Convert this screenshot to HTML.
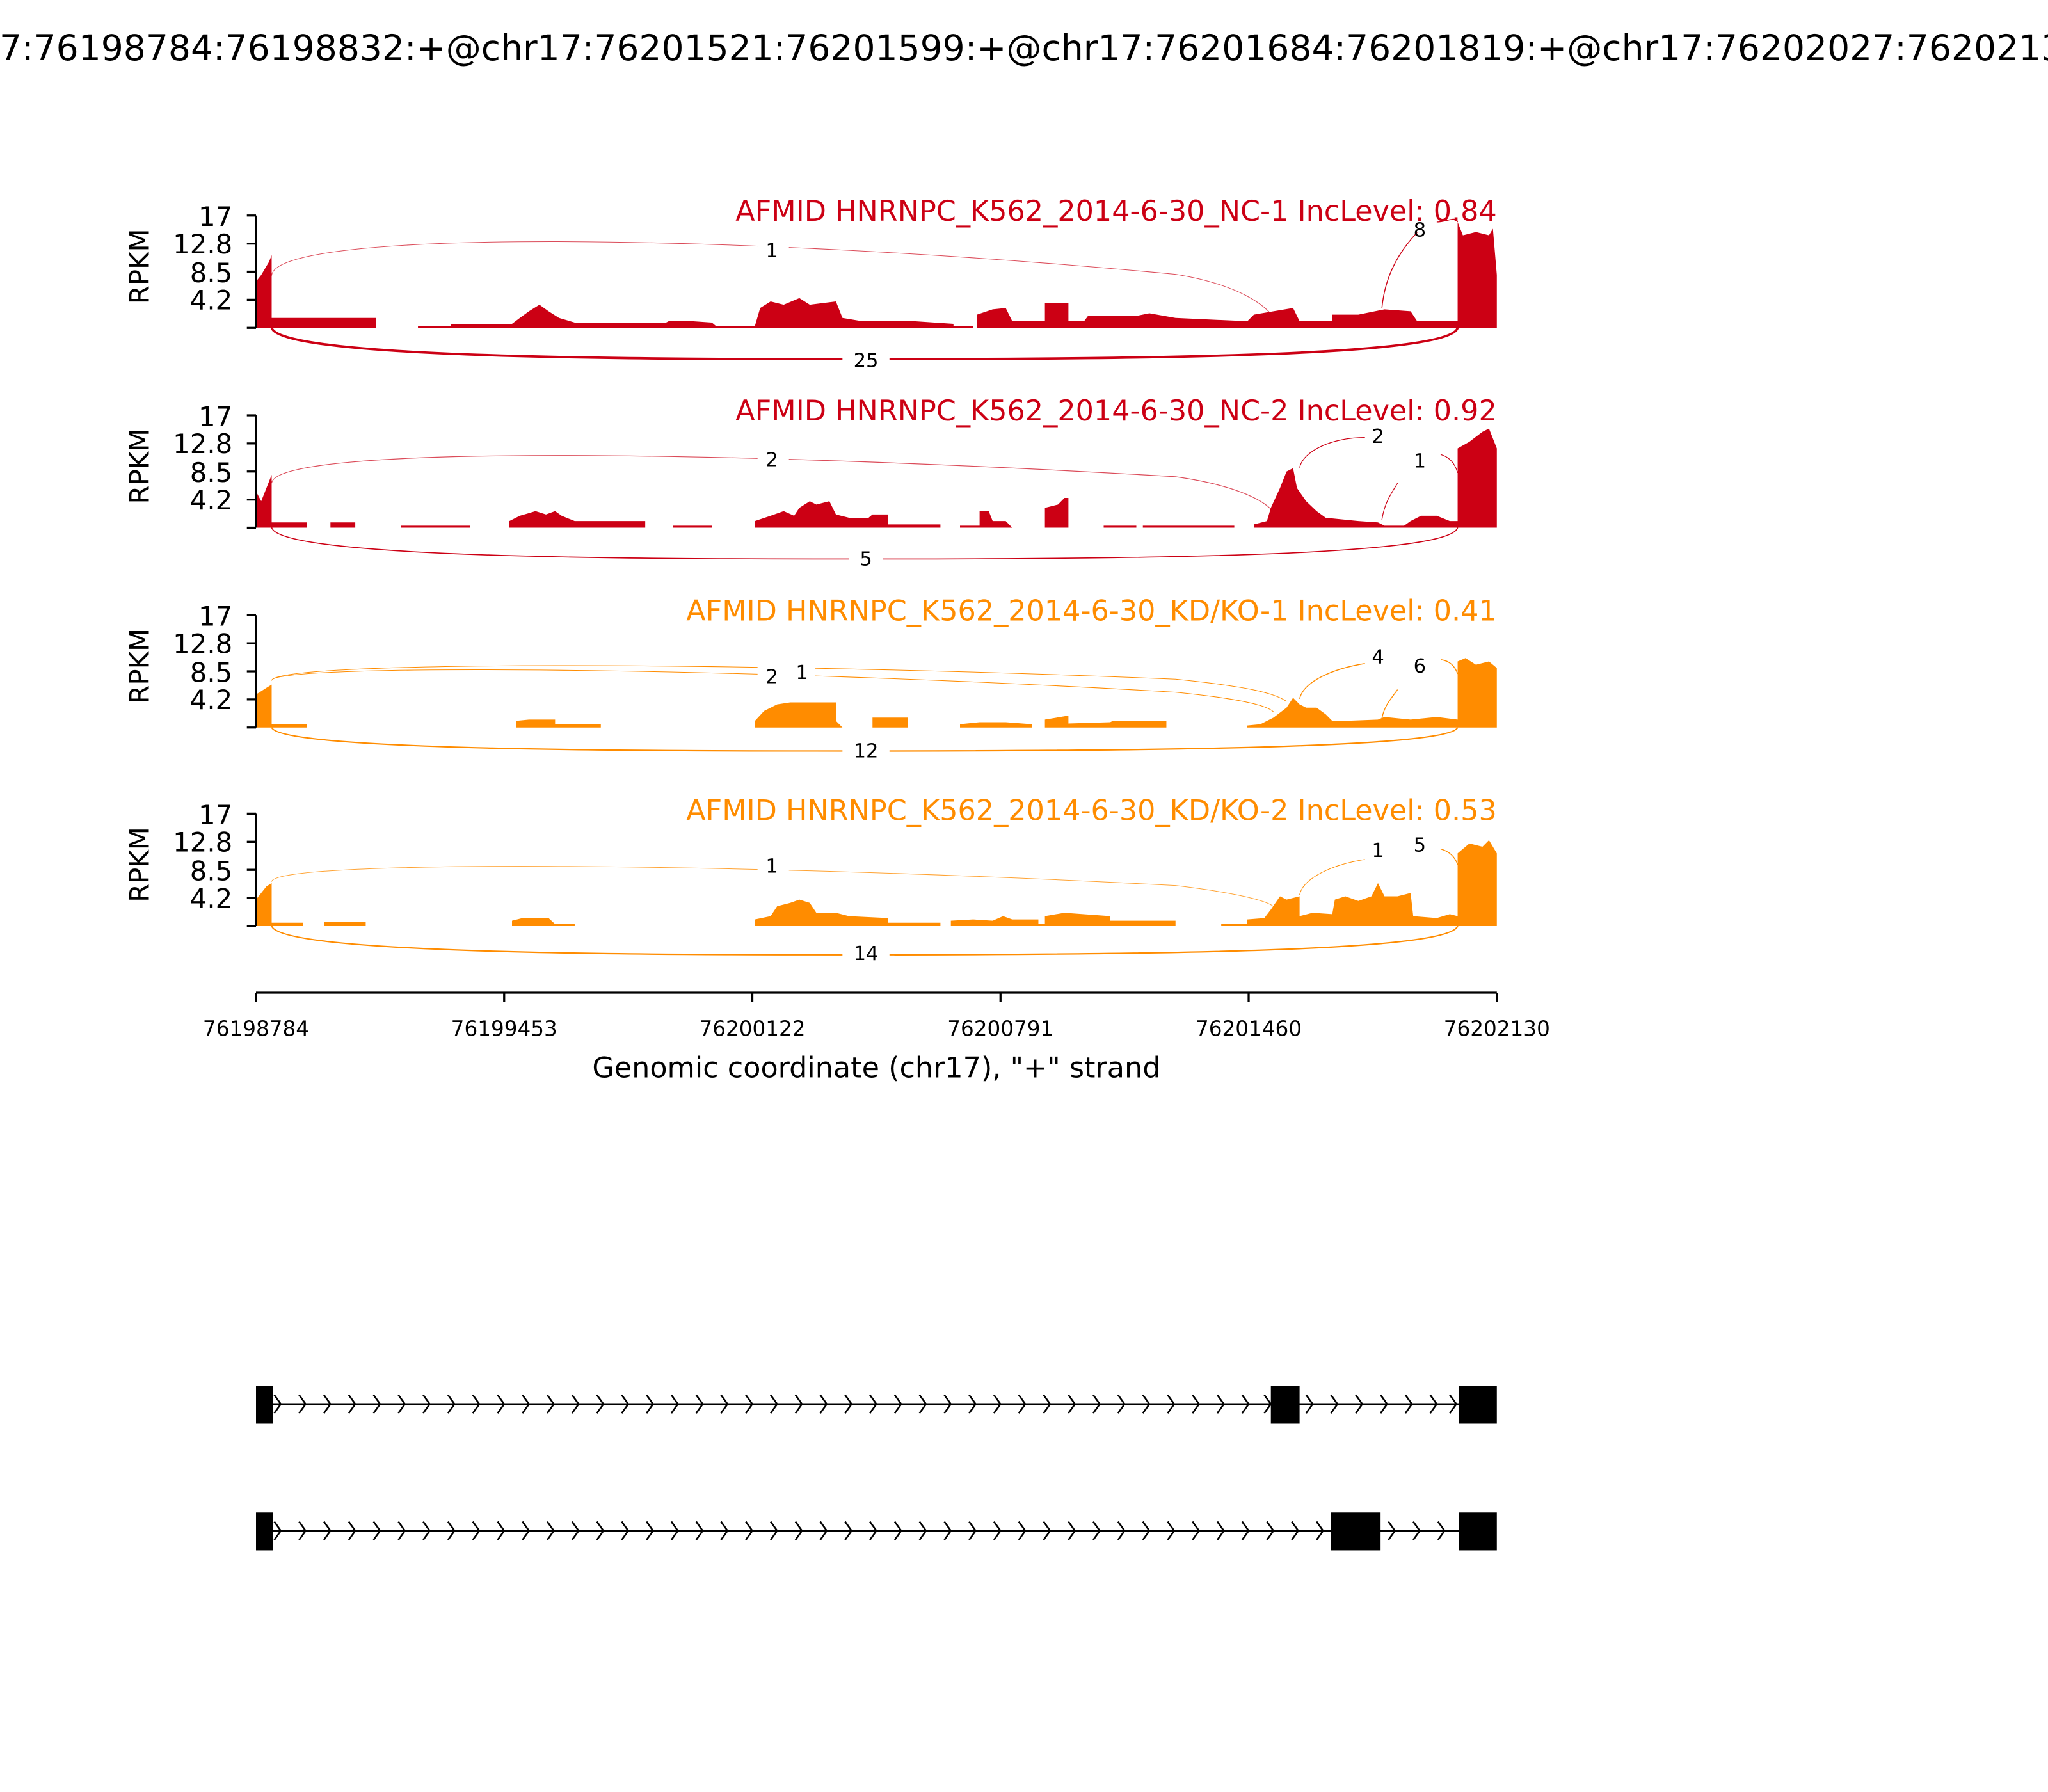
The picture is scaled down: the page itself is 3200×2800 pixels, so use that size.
<!DOCTYPE html>
<html><head><style>
html,body{margin:0;padding:0;background:#fff;}
svg{display:block;}
text{font-family:"DejaVu Sans","Liberation Sans",sans-serif;}
</style></head><body>
<svg width="3200" height="2800" viewBox="0 0 1568 1372" xmlns="http://www.w3.org/2000/svg">
<rect width="1568" height="1372" fill="#fff"/>
<text x="784" y="46" font-size="27" text-anchor="middle">chr17:76198784:76198832:+@chr17:76201521:76201599:+@chr17:76201684:76201819:+@chr17:76202027:76202130:+</text>

<!-- Panel 1 -->
<g>
<text x="1146" y="169" font-size="21.8" text-anchor="end" fill="#cc0014">AFMID HNRNPC_K562_2014-6-30_NC-1 IncLevel: 0.84</text>
<g transform="translate(0,251) scale(1,-5.06)" fill="#cc0014">
<path d="M196,0 L196,7 200,8 203,9 206,10 208,11 208,1.5 288,1.5 288,0 320,0 320,0.3 345,0.3 345,0.6 392,0.6 398,1.5 405,2.5 413,3.5 420,2.5 428,1.5 440,0.8 510,0.8 512,1 530,1 545,0.8 548,0.3 578,0.3 582,3 590,4 600,3.5 612,4.5 620,3.5 640,4 645,1.5 660,1 700,1 730,0.6 730,0.3 745,0.3 745,0 748,0 748,2 760,2.8 770,3 775,1 800,1 800,3.8 818,3.8 818,1 830,1 833,1.8 870,1.8 880,2.2 900,1.5 955,1 960,2 975,2.5 990,3 995,1 1020,1 1020,2 1040,2 1060,2.8 1080,2.5 1085,1 1116,1 1116,16 1120,14 1130,14.5 1140,14 1143,15 1146,8 1146,0 Z"/>
</g>
<path d="M208,211 C210,175 560,178 900,210 C950,218 970,235 975,243" fill="none" stroke="#cc0014" stroke-width="0.5" opacity="0.7"/>
<rect x="580" y="182" width="24" height="18" fill="#fff"/><text x="591" y="197" font-size="15" text-anchor="middle">1</text>
<path d="M1058,236 C1060,215 1068,196 1085,178 M1100,170 C1108,170 1114,165 1116,170" fill="none" stroke="#cc0014" stroke-width="0.7"/>
<text x="1087" y="181" font-size="15" text-anchor="middle">8</text>
<path d="M208,251 C215,275 500,275 663,275 C900,275 1110,272 1116,251" fill="none" stroke="#cc0014" stroke-width="1.8"/>
<rect x="645" y="266" width="36" height="18" fill="#fff"/><text x="663" y="281" font-size="15" text-anchor="middle">25</text>
</g>

<!-- Panel 2 -->
<g>
<text x="1146" y="322" font-size="21.8" text-anchor="end" fill="#cc0014">AFMID HNRNPC_K562_2014-6-30_NC-2 IncLevel: 0.92</text>
<g transform="translate(0,404) scale(1,-5.06)" fill="#cc0014">
<path d="M196,0 L196,5.5 200,4 204,6 208,8 208,0.8 235,0.8 235,0 253,0 253,0.8 272,0.8 272,0 307,0 307,0.3 360,0.3 360,0 390,0 390,1 398,1.8 405,2.2 410,2.5 418,2 425,2.5 430,1.8 440,1 494,1 494,0 515,0 515,0.3 545,0.3 545,0 578,0 578,1 590,1.8 600,2.5 608,1.8 612,3 620,4 625,3.5 635,4 640,2 650,1.5 665,1.5 668,2 680,2 680,0.5 720,0.5 720,0 735,0 735,0.3 750,0.3 750,2.5 757,2.5 760,1 770,1 775,0 800,0 800,3 810,3.5 815,4.5 818,4.5 818,0 845,0 845,0.3 870,0.3 870,0 875,0 875,0.3 945,0.3 945,0 960,0 960,0.5 970,1 973,3 980,6 985,8.5 990,9 993,6 1000,4 1008,2.5 1015,1.5 1040,1 1055,0.8 1060,0.3 1075,0.3 1080,1 1088,1.8 1100,1.8 1110,1 1116,1 1116,12 1125,13 1135,14.5 1140,15 1146,12 1146,0 Z"/>
</g>
<path d="M208,370 C210,340 560,345 900,365 C950,372 970,385 975,392" fill="none" stroke="#cc0014" stroke-width="0.6" opacity="0.7"/>
<rect x="580" y="342" width="24" height="18" fill="#fff"/><text x="591" y="357" font-size="15" text-anchor="middle">2</text>
<path d="M995,358 C998,345 1020,335 1045,335" fill="none" stroke="#cc0014" stroke-width="0.6"/>
<text x="1055" y="339" font-size="15" text-anchor="middle">2</text>
<path d="M1058,398 C1060,385 1065,378 1070,370 M1103,348 C1110,350 1114,355 1116,362" fill="none" stroke="#cc0014" stroke-width="0.6"/>
<text x="1087" y="358" font-size="15" text-anchor="middle">1</text>
<path d="M208,404 C215,428 500,428 663,428 C900,428 1110,425 1116,404" fill="none" stroke="#cc0014" stroke-width="0.8"/>
<rect x="650" y="419" width="26" height="18" fill="#fff"/><text x="663" y="433" font-size="15" text-anchor="middle">5</text>
</g>

<!-- Panel 3 -->
<g>
<text x="1146" y="475" font-size="21.8" text-anchor="end" fill="#ff8c00">AFMID HNRNPC_K562_2014-6-30_KD/KO-1 IncLevel: 0.41</text>
<g transform="translate(0,557) scale(1,-5.06)" fill="#ff8c00">
<path d="M196,0 L196,5 200,5.5 204,6 208,6.5 208,0.5 235,0.5 235,0 395,0 395,1 405,1.2 425,1.2 425,0.5 460,0.5 460,0 578,0 578,1 585,2.5 595,3.5 605,3.8 640,3.8 640,1 645,0 668,0 668,1.5 695,1.5 695,0 735,0 735,0.5 750,0.8 770,0.8 790,0.5 790,0 800,0 800,1.2 818,1.8 818,0.6 850,0.8 852,1 893,1 893,0 955,0 955,0.3 965,0.5 975,1.5 985,3 990,4.5 995,3.5 1000,3 1008,3 1015,2 1020,1 1030,1 1055,1.2 1060,1.6 1080,1.2 1100,1.6 1116,1.2 1116,10 1122,10.5 1130,9.5 1140,10 1146,9 1146,0 Z"/>
</g>
<path d="M208,521 C210,508 560,510 900,530 C950,535 970,540 975,545" fill="none" stroke="#ff8c00" stroke-width="0.5"/>
<path d="M208,521 C210,506 560,506 900,520 C950,525 975,530 985,537" fill="none" stroke="#ff8c00" stroke-width="0.5"/>
<rect x="580" y="508" width="44" height="18" fill="#fff"/>
<text x="591" y="523" font-size="15" text-anchor="middle">2</text><text x="614" y="520" font-size="15" text-anchor="middle">1</text>
<path d="M995,535 C998,522 1020,512 1045,508" fill="none" stroke="#ff8c00" stroke-width="0.7"/>
<text x="1055" y="508" font-size="15" text-anchor="middle">4</text>
<path d="M1058,550 C1060,540 1065,535 1070,528 M1103,505 C1110,506 1114,510 1116,516" fill="none" stroke="#ff8c00" stroke-width="0.7"/>
<text x="1087" y="515" font-size="15" text-anchor="middle">6</text>
<path d="M208,557 C215,575 500,575 663,575 C900,575 1110,572 1116,557" fill="none" stroke="#ff8c00" stroke-width="1.1"/>
<rect x="645" y="566" width="36" height="18" fill="#fff"/><text x="663" y="580" font-size="15" text-anchor="middle">12</text>
</g>

<!-- Panel 4 -->
<g>
<text x="1146" y="628" font-size="21.8" text-anchor="end" fill="#ff8c00">AFMID HNRNPC_K562_2014-6-30_KD/KO-2 IncLevel: 0.53</text>
<g transform="translate(0,709) scale(1,-5.06)" fill="#ff8c00">
<path d="M196,0 L196,4 200,5 204,6 208,6.5 208,0.5 232,0.5 232,0 248,0 248,0.6 280,0.6 280,0 392,0 392,0.8 400,1.2 420,1.2 425,0.3 440,0.3 440,0 578,0 578,1 590,1.5 595,3 605,3.5 612,4 620,3.5 625,2 640,2 650,1.5 680,1.2 680,0.5 720,0.5 720,0 728,0 728,0.8 745,1 760,0.8 768,1.5 775,1 795,1 795,0.3 800,0.3 800,1.5 815,2 850,1.5 850,0.8 900,0.8 900,0 935,0 935,0.3 955,0.3 955,1 968,1.2 973,2.5 980,4.5 985,4 995,4.5 995,1.5 1005,2 1020,1.8 1022,4 1030,4.5 1040,3.8 1050,4.5 1055,6.5 1060,4.5 1070,4.5 1080,5 1082,1.5 1100,1.2 1110,1.8 1116,1.5 1116,11 1125,12.5 1135,12 1140,13 1146,11 1146,0 Z"/>
</g>
<path d="M208,675 C210,658 560,660 900,678 C950,684 970,690 975,694" fill="none" stroke="#ff8c00" stroke-width="0.5" opacity="0.8"/>
<rect x="580" y="655" width="24" height="18" fill="#fff"/><text x="591" y="668" font-size="15" text-anchor="middle">1</text>
<path d="M995,685 C998,672 1020,662 1045,658" fill="none" stroke="#ff8c00" stroke-width="0.5"/>
<text x="1055" y="656" font-size="15" text-anchor="middle">1</text>
<path d="M1103,650 C1110,652 1114,656 1116,662" fill="none" stroke="#ff8c00" stroke-width="0.7"/>
<text x="1087" y="652" font-size="15" text-anchor="middle">5</text>
<path d="M208,709 C215,731 500,731 663,731 C900,731 1110,728 1116,709" fill="none" stroke="#ff8c00" stroke-width="1.1"/>
<rect x="645" y="722" width="36" height="18" fill="#fff"/><text x="663" y="735" font-size="15" text-anchor="middle">14</text>
</g>

<!-- Y axes -->
<g stroke="#000" stroke-width="1.6" fill="none">
<path d="M196,165 V251 M189,165 H196 M189,186.5 H196 M189,208 H196 M189,229.5 H196 M189,251 H196"/>
<path d="M196,318 V404 M189,318 H196 M189,339.5 H196 M189,361 H196 M189,382.5 H196 M189,404 H196"/>
<path d="M196,471 V557 M189,471 H196 M189,492.5 H196 M189,514 H196 M189,535.5 H196 M189,557 H196"/>
<path d="M196,623 V709 M189,623 H196 M189,644.5 H196 M189,666 H196 M189,687.5 H196 M189,709 H196"/>
</g>
<g font-size="20.5" text-anchor="end">
<text x="178" y="173">17</text><text x="178" y="194">12.8</text><text x="178" y="216">8.5</text><text x="178" y="237">4.2</text>
<text x="178" y="326">17</text><text x="178" y="347">12.8</text><text x="178" y="369">8.5</text><text x="178" y="390">4.2</text>
<text x="178" y="479">17</text><text x="178" y="500">12.8</text><text x="178" y="522">8.5</text><text x="178" y="543">4.2</text>
<text x="178" y="631">17</text><text x="178" y="652">12.8</text><text x="178" y="674">8.5</text><text x="178" y="695">4.2</text>
</g>
<g font-size="20.5" text-anchor="middle">
<text transform="translate(114,204) rotate(-90)">RPKM</text>
<text transform="translate(114,357) rotate(-90)">RPKM</text>
<text transform="translate(114,510) rotate(-90)">RPKM</text>
<text transform="translate(114,662) rotate(-90)">RPKM</text>
</g>

<!-- X axis -->
<g stroke="#000" stroke-width="1.6">
<path d="M196,760 H1146 M196,760 V767 M386,760 V767 M576,760 V767 M766,760 V767 M956,760 V767 M1146,760 V767"/>
</g>
<g font-size="16" text-anchor="middle">
<text x="196" y="793">76198784</text><text x="386" y="793">76199453</text><text x="576" y="793">76200122</text>
<text x="766" y="793">76200791</text><text x="956" y="793">76201460</text><text x="1146" y="793">76202130</text>
</g>
<text x="671" y="825" font-size="21.8" text-anchor="middle">Genomic coordinate (chr17), "+" strand</text>

<!-- Gene models -->
<g stroke="#000" stroke-width="1.3" fill="none">
<path d="M209,1075 H1117"/>
<path d="M209,1172 H1117"/>
<path d="M210,1068 l5,7 -5,7 M229,1068 l5,7 -5,7 M248,1068 l5,7 -5,7 M267,1068 l5,7 -5,7 M286,1068 l5,7 -5,7 M305,1068 l5,7 -5,7 M324,1068 l5,7 -5,7 M343,1068 l5,7 -5,7 M362,1068 l5,7 -5,7 M381,1068 l5,7 -5,7 M400,1068 l5,7 -5,7 M419,1068 l5,7 -5,7 M438,1068 l5,7 -5,7 M457,1068 l5,7 -5,7 M476,1068 l5,7 -5,7 M495,1068 l5,7 -5,7 M514,1068 l5,7 -5,7 M533,1068 l5,7 -5,7 M552,1068 l5,7 -5,7 M571,1068 l5,7 -5,7 M590,1068 l5,7 -5,7 M609,1068 l5,7 -5,7 M628,1068 l5,7 -5,7 M647,1068 l5,7 -5,7 M666,1068 l5,7 -5,7 M685,1068 l5,7 -5,7 M704,1068 l5,7 -5,7 M723,1068 l5,7 -5,7 M742,1068 l5,7 -5,7 M761,1068 l5,7 -5,7 M780,1068 l5,7 -5,7 M799,1068 l5,7 -5,7 M818,1068 l5,7 -5,7 M837,1068 l5,7 -5,7 M856,1068 l5,7 -5,7 M875,1068 l5,7 -5,7 M894,1068 l5,7 -5,7 M913,1068 l5,7 -5,7 M932,1068 l5,7 -5,7 M951,1068 l5,7 -5,7 M968,1068 l5,7 -5,7 M1000,1068 l5,7 -5,7 M1019,1068 l5,7 -5,7 M1038,1068 l5,7 -5,7 M1057,1068 l5,7 -5,7 M1076,1068 l5,7 -5,7 M1095,1068 l5,7 -5,7 M1110,1068 l5,7 -5,7"/>
<path d="M210,1165 l5,7 -5,7 M229,1165 l5,7 -5,7 M248,1165 l5,7 -5,7 M267,1165 l5,7 -5,7 M286,1165 l5,7 -5,7 M305,1165 l5,7 -5,7 M324,1165 l5,7 -5,7 M343,1165 l5,7 -5,7 M362,1165 l5,7 -5,7 M381,1165 l5,7 -5,7 M400,1165 l5,7 -5,7 M419,1165 l5,7 -5,7 M438,1165 l5,7 -5,7 M457,1165 l5,7 -5,7 M476,1165 l5,7 -5,7 M495,1165 l5,7 -5,7 M514,1165 l5,7 -5,7 M533,1165 l5,7 -5,7 M552,1165 l5,7 -5,7 M571,1165 l5,7 -5,7 M590,1165 l5,7 -5,7 M609,1165 l5,7 -5,7 M628,1165 l5,7 -5,7 M647,1165 l5,7 -5,7 M666,1165 l5,7 -5,7 M685,1165 l5,7 -5,7 M704,1165 l5,7 -5,7 M723,1165 l5,7 -5,7 M742,1165 l5,7 -5,7 M761,1165 l5,7 -5,7 M780,1165 l5,7 -5,7 M799,1165 l5,7 -5,7 M818,1165 l5,7 -5,7 M837,1165 l5,7 -5,7 M856,1165 l5,7 -5,7 M875,1165 l5,7 -5,7 M894,1165 l5,7 -5,7 M913,1165 l5,7 -5,7 M932,1165 l5,7 -5,7 M951,1165 l5,7 -5,7 M970,1165 l5,7 -5,7 M989,1165 l5,7 -5,7 M1008,1165 l5,7 -5,7 M1063,1165 l5,7 -5,7 M1082,1165 l5,7 -5,7 M1101,1165 l5,7 -5,7"/>
</g>
<g fill="#000">
<rect x="196" y="1061" width="13" height="29"/><rect x="973" y="1061" width="22" height="29"/><rect x="1117" y="1061" width="29" height="29"/>
<rect x="196" y="1158" width="13" height="29"/><rect x="1019" y="1158" width="38" height="29"/><rect x="1117" y="1158" width="29" height="29"/>
</g>
</svg>
</body></html>
